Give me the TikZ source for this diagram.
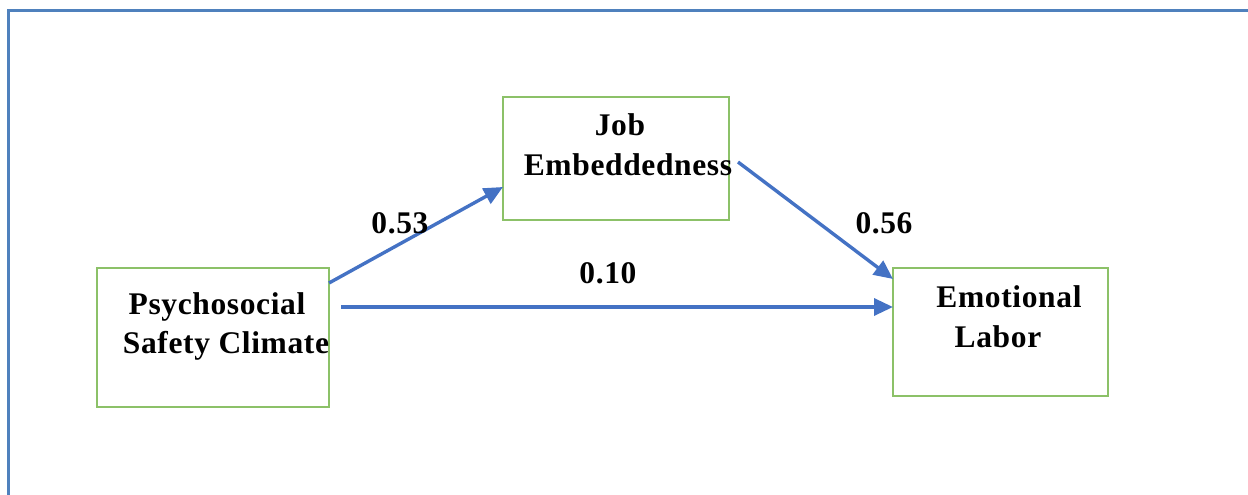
\documentclass[tikz,border=0pt]{standalone}
\usepackage{fontspec}
\setmainfont{Liberation Serif}[LetterSpace=2]
\usetikzlibrary{arrows.meta}
\definecolor{framebl}{HTML}{4F81BD}
\definecolor{arrowbl}{HTML}{4472C4}
\definecolor{boxgr}{HTML}{8CC168}
\tikzset{
  varbox/.style={draw=boxgr, line width=1.3pt, minimum width=#1, inner sep=0pt},
  txt/.style={font=\fontsize{31.5}{36}\selectfont\bfseries, anchor=base, inner sep=0pt},
  path/.style={draw=arrowbl, line width=3.4pt, -{Triangle[length=19pt,width=17pt]}},
}
\begin{document}
\begin{tikzpicture}[x=1pt,y=-1pt]
\useasboundingbox (0,0) rectangle (1248,495);
% outer frame (top and left edges only)
\draw[framebl, line width=3pt] (1250,11) -- (8,11) -- (8,497);

% variable boxes
\node[varbox=232pt, minimum height=139pt] (psc) at (213,337.5) {};
\node[varbox=226pt, minimum height=123pt] (je) at (616,158.5) {};
\node[varbox=215pt, minimum height=128pt] (el) at (1000.5,332) {};

% box captions
\node[txt] (psc1) at (217,314) {Psychosocial};
\node[txt] (psc2) at (226,353) {Safety Climate};
\node[txt] (je1) at (620,135) {Job};
\node[txt] (je2) at (628,175) {Embeddedness};
\node[txt] (el1) at (1009,307) {Emotional};
\node[txt] (el2) at (998,347) {Labor};

% arrow end points
\coordinate (a1s) at (329,283);
\coordinate (a1e) at (503,187);
\coordinate (a2s) at (341,307);
\coordinate (a2e) at (893,307);
\coordinate (a3s) at (738,162);
\coordinate (a3e) at (893,279);

\draw[path] (a1s) -- (a1e);
\draw[path] (a2s) -- (a2e);
\draw[path] (a3s) -- (a3e);

% path coefficients
\node[txt] (c1) at (400,233) {0.53};
\node[txt] (c2) at (608,283) {0.10};
\node[txt] (c3) at (884,233) {0.56};
\end{tikzpicture}
\end{document}
